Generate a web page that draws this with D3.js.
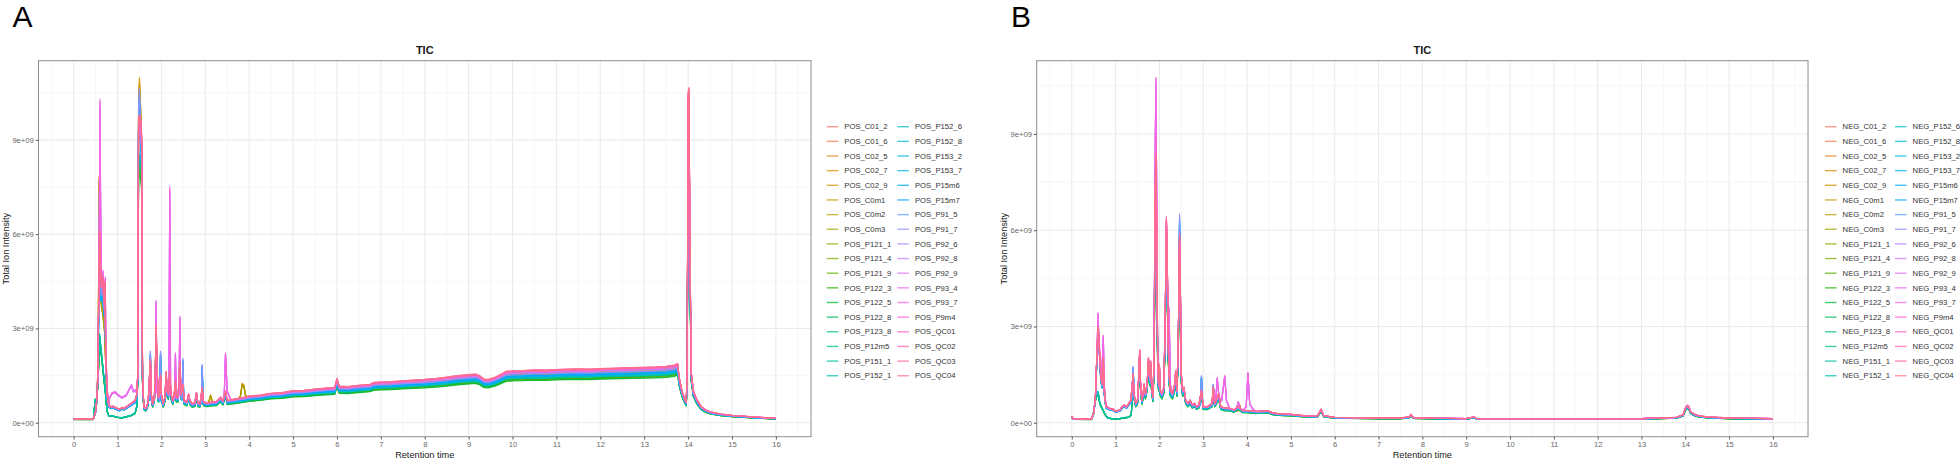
<!DOCTYPE html>
<html><head><meta charset="utf-8">
<script src="https://cdn.jsdelivr.net/npm/d3@7"></script>
<style>body{margin:0;background:#fff} svg{display:block} text{font-family:"Liberation Sans",Arial,sans-serif}</style>
</head><body><svg id="c" width="1960" height="460"></svg>
<script>
// ---------------- DATA (intensity in units of 1e9) ----------------
const samplesPOS = ["POS_C01_2","POS_C01_6","POS_C02_5","POS_C02_7","POS_C02_9","POS_C0m1","POS_C0m2","POS_C0m3","POS_P121_1","POS_P121_4","POS_P121_9","POS_P122_3","POS_P122_5","POS_P122_8","POS_P123_8","POS_P12m5","POS_P151_1","POS_P152_1","POS_P152_6","POS_P152_8","POS_P153_2","POS_P153_7","POS_P15m6","POS_P15m7","POS_P91_5","POS_P91_7","POS_P92_6","POS_P92_8","POS_P92_9","POS_P93_4","POS_P93_7","POS_P9m4","POS_QC01","POS_QC02","POS_QC03","POS_QC04"];
const samplesNEG = ["NEG_C01_2","NEG_C01_6","NEG_C02_5","NEG_C02_7","NEG_C02_9","NEG_C0m1","NEG_C0m2","NEG_C0m3","NEG_P121_1","NEG_P121_4","NEG_P121_9","NEG_P122_3","NEG_P122_5","NEG_P122_8","NEG_P123_8","NEG_P12m5","NEG_P151_1","NEG_P152_1","NEG_P152_6","NEG_P152_8","NEG_P153_2","NEG_P153_7","NEG_P15m6","NEG_P15m7","NEG_P91_5","NEG_P91_7","NEG_P92_6","NEG_P92_8","NEG_P92_9","NEG_P93_4","NEG_P93_7","NEG_P9m4","NEG_QC01","NEG_QC02","NEG_QC03","NEG_QC04"];

// profile group of each sample (same order as samples)
const sampleGroup = ["main","main","orange","orange","orange","orange","orange","orange",
  "green","green","green","green","green","green","green","green","green","green",
  "blue","blue","blue","blue","blue","blue","blue","blue",
  "magenta","magenta","magenta","magenta","magenta","main","main","main","main","main"];

// relative level of each sample
const levelPOS = [0.97,0.95,0.96,0.98,0.94,0.97,0.95,0.93,0.86,0.84,0.83,0.85,0.82,0.87,0.88,0.86,0.89,0.87,0.90,0.89,0.91,0.90,0.92,0.91,0.94,0.95,0.98,0.99,0.97,1.01,1.00,1.00,1.02,1.01,1.00,1.02];
const levelNEG = [0.98,0.96,0.95,0.97,0.94,0.96,0.95,0.93,0.85,0.84,0.83,0.86,0.82,0.87,0.88,0.85,0.89,0.88,0.90,0.91,0.91,0.90,0.92,0.93,0.94,0.95,0.98,0.99,0.97,1.00,1.00,1.00,1.02,1.01,1.00,1.01];

// Panel A (POS) main TIC profile: [retention time, intensity]
const mainPOS = [[0,0.12],[0.45,0.12],[0.5,0.35],[0.54,0.9],[0.57,3.5],[0.59,6.0],[0.61,5.0],[0.63,4.3],[0.66,4.6],[0.69,3.8],[0.71,4.4],[0.73,2.5],[0.76,0.9],[0.8,0.55],[0.85,0.5],[0.9,0.52],[0.95,0.48],[1.0,0.45],[1.05,0.42],[1.1,0.48],[1.15,0.45],[1.2,0.5],[1.25,0.55],[1.3,0.6],[1.35,0.65],[1.4,0.7],[1.44,0.9],
 [1.46,1.5],[1.48,9.5],[1.5,9.6],[1.53,9.4],[1.55,9.0],[1.57,1.5],[1.6,0.5],[1.64,0.45],[1.68,0.55],[1.71,0.9],[1.73,1.5],[1.75,2.0],[1.77,0.9],[1.8,0.6],[1.84,0.8],[1.86,1.6],[1.88,3.05],[1.9,1.8],[1.93,0.8],[1.96,0.9],[1.98,1.5],[2.0,0.9],[2.04,0.6],[2.08,0.8],[2.11,1.6],[2.13,1.0],[2.16,0.9],[2.19,1.6],[2.22,0.9],[2.26,0.7],[2.3,1.0],[2.32,1.3],[2.34,0.8],[2.38,0.8],[2.42,1.9],[2.45,0.9],[2.49,1.2],[2.52,0.7],[2.58,0.65],[2.62,0.9],[2.65,0.7],[2.7,0.6],[2.76,0.62],[2.8,0.95],[2.83,0.62],[2.88,0.6],[2.93,1.1],[2.96,0.65],[3.05,0.62],[3.15,0.65],[3.25,0.66],[3.35,0.8],[3.4,0.68],[3.46,1.0],[3.5,0.7],[3.6,0.72],[3.75,0.76],[3.9,0.8],
 [4.0,0.83],[4.25,0.86],[4.5,0.92],[4.75,0.94],[5.0,1.0],[5.25,1.01],[5.5,1.05],[5.75,1.08],[5.95,1.1],[6.0,1.38],[6.05,1.14],[6.25,1.13],[6.5,1.17],[6.75,1.2],[6.85,1.26],[7.0,1.27],[7.25,1.28],[7.5,1.31],[7.75,1.33],[8.0,1.35],[8.25,1.38],[8.5,1.42],[8.75,1.47],[9.0,1.5],[9.15,1.52],[9.25,1.47],[9.35,1.36],[9.45,1.35],[9.6,1.42],[9.75,1.52],[9.85,1.6],[10.0,1.62],[10.25,1.63],[10.5,1.65],[10.75,1.64],[11.0,1.66],[11.25,1.67],[11.5,1.68],[11.75,1.67],[12.0,1.69],[12.25,1.7],[12.5,1.71],[12.75,1.72],[13.0,1.73],[13.25,1.74],[13.5,1.76],[13.7,1.8],[13.76,1.85],
 [13.8,1.4],[13.86,1.0],[13.93,0.72],[13.96,0.65],[13.98,2.0],[14.0,10.3],[14.02,10.45],[14.04,6.0],[14.07,1.6],[14.12,1.0],[14.2,0.72],[14.3,0.5],[14.4,0.4],[14.5,0.34],[14.75,0.27],[15.0,0.23],[15.5,0.18],[16.0,0.14]];

// Panel A group-specific deviations (segments replace the main profile over their span)
const orangePOS = [
 [[0.49,0.5],[0.53,0.75],[0.56,2.0],[0.58,8.0],[0.6,5.5],[0.63,4.0],[0.67,3.6],[0.71,3.0],[0.74,1.5],[0.77,0.8]],
 [[1.46,1.5],[1.48,10.5],[1.5,11.2],[1.53,10.2],[1.55,9.2],[1.57,1.5]],
 [[3.08,0.68],[3.12,0.9],[3.16,0.7]],
 [[3.8,0.88],[3.84,1.28],[3.88,1.22],[3.92,0.88]]];
const greenPOS = [
 [[0.45,0.12],[0.49,0.85],[0.52,0.65],[0.56,1.6],[0.59,3.2],[0.63,2.6],[0.68,1.8],[0.72,1.2],[0.76,0.45],[0.8,0.26],[0.9,0.24],[1.0,0.2],[1.1,0.18],[1.2,0.22],[1.3,0.26],[1.4,0.35],[1.44,0.6]]];
const bluePOS = [
 [[1.46,1.5],[1.48,10.6],[1.5,11.2],[1.53,10.0],[1.55,9.0],[1.57,1.5]],
 [[1.73,0.8],[1.75,2.4],[1.77,0.8]],
 [[1.96,0.75],[1.98,2.4],[2.0,0.8]],
 [[2.47,0.8],[2.49,2.15],[2.51,0.8]],
 [[2.91,0.7],[2.93,1.95],[2.95,0.7]]];
const magentaPOS = [
 [[0.55,1.5],[0.58,5.0],[0.6,10.2],[0.62,6.0],[0.64,4.5],[0.67,4.8],[0.7,3.8],[0.72,4.6],[0.74,2.0],[0.77,1.0]],
 [[0.82,0.8],[0.88,0.95],[0.95,0.98],[1.0,0.9],[1.1,0.8],[1.2,0.88],[1.28,1.1],[1.32,1.2],[1.36,1.0],[1.42,1.05]],
 [[1.86,1.0],[1.88,3.85],[1.9,1.0]],
 [[2.17,0.9],[2.19,7.45],[2.21,1.0]],
 [[2.3,0.8],[2.32,2.2],[2.34,0.8]],
 [[2.4,0.9],[2.42,3.35],[2.44,0.9]],
 [[3.43,0.8],[3.46,2.2],[3.5,1.0],[3.56,0.8]]];

// Panel B (NEG) main TIC profile
const mainNEG = [[0,0.2],[0.03,0.13],[0.45,0.12],[0.5,0.3],[0.54,0.8],[0.57,2.0],[0.6,2.97],[0.63,2.4],[0.66,1.5],[0.69,1.2],[0.72,2.0],[0.74,1.0],[0.78,0.5],[0.85,0.45],[0.95,0.42],[1.0,0.36],[1.05,0.38],[1.1,0.4],[1.15,0.5],[1.2,0.55],[1.25,0.5],[1.3,0.6],[1.35,0.7],[1.38,1.2],[1.4,1.5],[1.42,0.9],[1.46,0.6],[1.5,0.7],[1.53,1.5],[1.55,2.24],[1.57,1.2],[1.6,0.7],[1.63,0.9],[1.65,1.2],[1.68,0.9],[1.72,1.2],[1.75,2.0],[1.78,1.4],[1.8,1.9],[1.82,1.2],[1.85,0.8],[1.88,2.0],[1.9,7.0],[1.92,8.3],[1.94,6.0],[1.96,2.0],[1.98,1.2],[2.0,1.8],[2.02,1.0],[2.06,0.9],[2.1,1.1],[2.13,3.0],[2.16,6.3],[2.18,5.0],[2.2,2.5],[2.22,1.5],[2.25,1.0],[2.3,0.9],[2.35,1.2],[2.37,1.6],[2.4,1.0],[2.43,2.5],[2.46,5.8],[2.48,4.0],[2.5,1.5],[2.53,1.0],[2.56,1.1],[2.6,0.7],[2.65,0.6],[2.7,0.7],[2.75,0.55],[2.8,0.6],[2.85,0.5],[2.9,0.55],[2.96,1.0],[3.0,0.5],[3.1,0.5],[3.2,0.6],[3.23,1.1],[3.26,0.6],[3.3,0.7],[3.35,0.9],[3.4,0.5],[3.5,0.45],[3.6,0.45],[3.7,0.4],[3.8,0.5],[3.9,0.38],[4.0,0.38],[4.2,0.35],[4.47,0.37],[4.6,0.3],[4.8,0.27],[5.0,0.26],[5.3,0.22],[5.6,0.2],[5.69,0.42],[5.75,0.22],[6.0,0.17],[6.5,0.16],[7.0,0.15],[7.5,0.15],[7.7,0.18],[7.74,0.26],[7.8,0.16],[8.5,0.14],[9.0,0.13],[9.18,0.18],[9.25,0.13],[10.0,0.13],[11.0,0.13],[12.0,0.13],[13.0,0.13],[13.8,0.17],[13.95,0.25],[14.0,0.45],[14.05,0.54],[14.08,0.5],[14.12,0.35],[14.2,0.27],[14.3,0.22],[14.5,0.18],[15.0,0.15],[16.0,0.13]];

const orangeNEG = [
 [[3.8,0.4],[3.83,0.58],[3.86,0.4]]];
const greenNEG = [
 [[0.45,0.12],[0.5,0.4],[0.55,0.9],[0.6,1.1],[0.64,0.7],[0.7,0.5],[0.76,0.3],[0.82,0.18],[0.9,0.15],[1.0,0.14],[1.1,0.15],[1.2,0.18],[1.3,0.2],[1.36,0.28]]];
const blueNEG = [
 [[1.37,0.8],[1.4,1.85],[1.43,0.8]],
 [[1.88,2.0],[1.9,7.5],[1.92,9.3],[1.94,6.0],[1.96,2.0]],
 [[2.13,3.0],[2.16,5.8],[2.18,4.5],[2.2,2.5]],
 [[2.43,2.5],[2.46,6.85],[2.48,4.0],[2.5,1.5]],
 [[2.93,0.6],[2.96,1.55],[2.99,0.6]],
 [[3.21,0.6],[3.23,1.27],[3.26,0.6]]];
const magentaNEG = [
 [[0.57,2.0],[0.6,3.42],[0.63,2.2],[0.67,1.5],[0.7,2.0],[0.72,2.72],[0.74,1.2],[0.78,0.55]],
 [[1.88,2.0],[1.9,8.0],[1.92,10.75],[1.94,7.0],[1.96,2.0]],
 [[2.13,3.0],[2.16,6.35],[2.18,5.0],[2.2,3.0],[2.22,3.6],[2.25,1.2]],
 [[3.28,0.6],[3.32,1.4],[3.36,0.8],[3.42,0.7],[3.49,1.46],[3.53,0.7]],
 [[3.76,0.45],[3.8,0.66],[3.84,0.45]],
 [[3.98,0.5],[4.02,1.56],[4.06,0.6],[4.12,0.45]]];

const xTicks = [0,1,2,3,4,5,6,7,8,9,10,11,12,13,14,15,16];
const yTicks = [0,3,6,9];
const yTickLabels = ["0e+00","3e+09","6e+09","9e+09"];

// ---------------- helpers ----------------
function hueColor(h){ // R hcl(h, c=100, l=65) — polar CIELUV
  const l=65,c=100,hr=h*Math.PI/180;
  const U=c*Math.cos(hr),V=c*Math.sin(hr);
  const Xn=95.047,Yn=100,Zn=108.883,den=Xn+15*Yn+3*Zn;
  const un=4*Xn/den,vn=9*Yn/den;
  const Y=Yn*Math.pow((l+16)/116,3);
  const up=U/(13*l)+un,vp=V/(13*l)+vn;
  const X=Y*9*up/(4*vp),Z=Y*(12-3*up-20*vp)/(4*vp);
  const x=X/100,y=Y/100,z=Z/100;
  const lin=[3.2404542*x-1.5371385*y-0.4985314*z,-0.9692660*x+1.8760108*y+0.0415560*z,0.0556434*x-0.2040259*y+1.0572252*z];
  const g=lin.map(v=>{v=v<=0.0031308?12.92*v:1.055*Math.pow(v,1/2.4)-0.055;return Math.round(255*Math.max(0,Math.min(1,v)));});
  return d3.rgb(g[0],g[1],g[2]).formatHex();
}
const colors = d3.range(36).map(i=>hueColor(15+360*i/36));

function buildSeries(base, segs, f){
  let pts = base.filter(([t])=>!segs.some(s=>t>=s[0][0]&&t<=s[s.length-1][0]));
  segs.forEach(s=>{pts=pts.concat(s);});
  pts.sort((a,b)=>a[0]-b[0]);
  return pts.map(([t,v])=>[t,v*f]);
}

const svg = d3.select("#c");
svg.append("rect").attr("width",1960).attr("height",460).attr("fill","#fff");

const panels = [
 {x0:38.5,x1:811,y0:60.7,y1:436.7,label:"A",lx:12.5,names:samplesPOS,levels:levelPOS,base:mainPOS,
  segs:{main:[],orange:orangePOS,green:greenPOS,blue:bluePOS,magenta:magentaPOS},legX:[826.7,897.3]},
 {x0:1036.7,x1:1808,y0:60.7,y1:436.7,label:"B",lx:1011,names:samplesNEG,levels:levelNEG,base:mainNEG,
  segs:{main:[],orange:orangeNEG,green:greenNEG,blue:blueNEG,magenta:magentaNEG},legX:[1825,1895]}
];

panels.forEach(p=>{
  const series = p.names.map((n,i)=>({name:n,color:colors[i],pts:buildSeries(p.base,p.segs[sampleGroup[i]],p.levels[i])}));
  const all = series.flatMap(s=>s.pts);
  const xe = d3.extent(all,d=>d[0]), ye = d3.extent(all,d=>d[1]);
  const xr=xe[1]-xe[0], yr=ye[1]-ye[0];
  const x = d3.scaleLinear().domain([xe[0]-0.05*xr,xe[1]+0.05*xr]).range([p.x0,p.x1]);
  const y = d3.scaleLinear().domain([ye[0]-0.05*yr,ye[1]+0.05*yr]).range([p.y1,p.y0]);
  const g = svg.append("g");
  // grid
  const xmin = d3.range(-0.5,17,1).filter(v=>x(v)>p.x0&&x(v)<p.x1);
  const ymin = d3.range(-1.5,12,3).filter(v=>y(v)>p.y0&&y(v)<p.y1);
  g.selectAll(".gxm").data(xmin).join("line").attr("x1",d=>x(d)).attr("x2",d=>x(d)).attr("y1",p.y0).attr("y2",p.y1).attr("stroke","#f2f2f2").attr("stroke-width",0.6);
  g.selectAll(".gym").data(ymin).join("line").attr("y1",d=>y(d)).attr("y2",d=>y(d)).attr("x1",p.x0).attr("x2",p.x1).attr("stroke","#f2f2f2").attr("stroke-width",0.6);
  g.selectAll(".gx").data(xTicks).join("line").attr("x1",d=>x(d)).attr("x2",d=>x(d)).attr("y1",p.y0).attr("y2",p.y1).attr("stroke","#ebebeb").attr("stroke-width",1.1);
  g.selectAll(".gy").data(yTicks).join("line").attr("y1",d=>y(d)).attr("y2",d=>y(d)).attr("x1",p.x0).attr("x2",p.x1).attr("stroke","#ebebeb").attr("stroke-width",1.1);
  // lines
  const line = d3.line().x(d=>x(d[0])).y(d=>y(d[1]));
  g.append("g").selectAll("path").data(series).join("path")
    .attr("d",s=>line(s.pts)).attr("fill","none").attr("stroke",s=>s.color)
    .attr("stroke-width",1.15).attr("stroke-linejoin","round").attr("stroke-opacity",0.9);
  // border
  g.append("rect").attr("x",p.x0).attr("y",p.y0).attr("width",p.x1-p.x0).attr("height",p.y1-p.y0)
    .attr("fill","none").attr("stroke","#8c8c8c").attr("stroke-width",1);
  // axes
  const ax = g.append("g").attr("transform",`translate(0,${p.y1})`)
    .call(d3.axisBottom(x).tickValues(xTicks).tickSize(2.8).tickPadding(2).tickFormat(d3.format("d")));
  const ay = g.append("g").attr("transform",`translate(${p.x0},0)`)
    .call(d3.axisLeft(y).tickValues(yTicks).tickSize(2.8).tickPadding(2).tickFormat((d,i)=>yTickLabels[i]));
  [ax,ay].forEach(a=>{a.select(".domain").remove();
    a.selectAll(".tick line").attr("stroke","#555");
    a.selectAll(".tick text").attr("fill","#666").attr("font-size",7.6).attr("font-family","Liberation Sans, Arial, sans-serif");});
  // titles
  const cx=(p.x0+p.x1)/2, cy=(p.y0+p.y1)/2;
  g.append("text").attr("x",cx).attr("y",54).attr("text-anchor","middle").attr("font-size",11).attr("font-weight","bold").attr("fill","#1a1a1a").text("TIC");
  g.append("text").attr("x",cx).attr("y",458).attr("text-anchor","middle").attr("font-size",9.2).attr("fill","#1a1a1a").text("Retention time");
  g.append("text").attr("transform",`translate(${p.x0-30},${cy}) rotate(-90)`).attr("text-anchor","middle").attr("font-size",9.2).attr("fill","#1a1a1a").text("Total Ion Intensity");
  g.append("text").attr("x",p.lx).attr("y",27.4).attr("font-size",30).attr("fill","#000").text(p.label);
  // legend
  const lg = g.append("g");
  series.forEach((s,i)=>{
    const col=Math.floor(i/18), row=i%18;
    const ly=126.7+row*14.65, lx=p.legX[col];
    lg.append("line").attr("x1",lx).attr("x2",lx+11.6).attr("y1",ly).attr("y2",ly).attr("stroke",s.color).attr("stroke-width",1.4).attr("stroke-opacity",0.75);
    lg.append("text").attr("x",lx+17.6).attr("y",ly).attr("dy","0.35em").attr("font-size",7.7).attr("fill","#333").text(s.name);
  });
});
</script></body></html>
